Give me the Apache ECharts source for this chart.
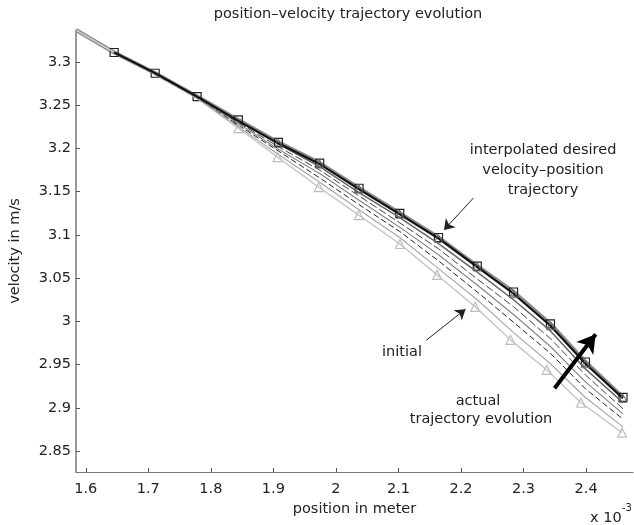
<!DOCTYPE html>
<html><head><meta charset="utf-8">
<script src="https://cdn.jsdelivr.net/npm/echarts@6/dist/echarts.min.js"></script>
<style>html,body{margin:0;padding:0;background:#fff}#c{width:634px;height:525px}</style>
</head><body><div id="c"></div>
<script>
// tick labels
const xTicks = [1.6, 1.7, 1.8, 1.9, 2, 2.1, 2.2, 2.3, 2.4];
const yTicks = [2.85, 2.9, 2.95, 3, 3.05, 3.1, 3.15, 3.2, 3.25, 3.3];

// positions (x 10^-3 m) of the samples on the desired / iterated trajectories
const positions = [1.5844, 1.6454, 1.711, 1.778, 1.844, 1.908, 1.974, 2.037, 2.102, 2.164, 2.226, 2.284, 2.343, 2.399, 2.459];
// interpolated desired velocity-position trajectory
const desired   = [3.337, 3.311, 3.287, 3.260, 3.233, 3.207, 3.183, 3.154, 3.125, 3.097, 3.064, 3.034, 2.997, 2.953, 2.912];
// iterations of the actual trajectory (from first after initial to last)
const iter1 = [3.337, 3.311, 3.286, 3.258, 3.225, 3.193, 3.161, 3.129, 3.097, 3.061, 3.025, 2.987, 2.951, 2.912, 2.878];
const iter2 = [3.337, 3.311, 3.286, 3.259, 3.227, 3.197, 3.166, 3.135, 3.104, 3.070, 3.034, 2.999, 2.963, 2.922, 2.887];
const iter3 = [3.337, 3.311, 3.287, 3.259, 3.229, 3.199, 3.171, 3.140, 3.109, 3.077, 3.042, 3.008, 2.971, 2.930, 2.893];
const iter4 = [3.337, 3.311, 3.287, 3.259, 3.230, 3.202, 3.175, 3.145, 3.114, 3.084, 3.049, 3.017, 2.980, 2.938, 2.899];
const iter5 = [3.337, 3.311, 3.287, 3.260, 3.232, 3.205, 3.179, 3.149, 3.120, 3.090, 3.057, 3.025, 2.989, 2.945, 2.906];
const finalActual = [3.337, 3.311, 3.287, 3.260, 3.232, 3.206, 3.182, 3.153, 3.124, 3.096, 3.063, 3.032, 2.995, 2.951, 2.911];
// initial actual trajectory (own sample positions)
const initialPositions = [1.5844, 1.6454, 1.711, 1.778, 1.844, 1.9067, 1.9725, 2.0366, 2.1023, 2.1618, 2.2228, 2.2792, 2.3371, 2.3919, 2.4576];
const initialVel = [3.337, 3.311, 3.286, 3.258, 3.2234, 3.190, 3.1553, 3.123, 3.0895, 3.0537, 3.0168, 2.9787, 2.944, 2.9059, 2.8713];

const FONT = '"DejaVu Sans", sans-serif';
const FS = 14.5;
const pair = (xs, ys, from) => ys.map((v, i) => [xs[i], v]).slice(from || 0);

const chart = echarts.init(document.getElementById('c'));
const lineSeries = (name, xs, ys, color, width, type, from) => ({
  name, type: 'line', data: pair(xs, ys, from), showSymbol: false, symbol: 'none',
  lineStyle: { color, width, type: type || 'solid' }, silent: true, z: 3
});
const txt = (x, y, text, size, align) => ({
  type: 'text', z: 10,
  style: { x, y, text, textAlign: align || 'center', textVerticalAlign: 'middle', font: (size || FS) + 'px ' + FONT, fill: '#222' }
});

chart.setOption({
  animation: false,
  backgroundColor: '#fff',
  grid: { left: 64, right: 1, top: 30, bottom: 53 },
  xAxis: {
    type: 'value', min: 1.5844, max: 2.475,
    name: 'position in meter', nameLocation: 'middle', nameGap: 29,
    nameTextStyle: { fontFamily: FONT, fontSize: FS, color: '#222' },
    axisLine: { show: true, lineStyle: { color: '#777', width: 1 } },
    axisTick: { show: true, inside: true, length: 4, customValues: xTicks, lineStyle: { color: '#555' } },
    axisLabel: { customValues: xTicks, margin: 10, fontFamily: FONT, fontSize: FS, color: '#222' },
    splitLine: { show: false }
  },
  yAxis: {
    type: 'value', min: 2.8258, max: 3.337,
    name: 'velocity in m/s', nameLocation: 'middle', nameGap: 53, nameRotate: 90,
    nameTextStyle: { fontFamily: FONT, fontSize: FS, color: '#222' },
    axisLine: { show: true, lineStyle: { color: '#777', width: 1.5 } },
    axisTick: { show: true, inside: true, length: 4, customValues: yTicks, lineStyle: { color: '#555' } },
    axisLabel: { customValues: yTicks, margin: 5, fontFamily: FONT, fontSize: FS, color: '#222' },
    splitLine: { show: false }
  },
  series: [
    {
      name: 'desired', type: 'line', silent: true, z: 2,
      data: positions.map((p, i) => ({ value: [p, desired[i]], symbol: i === 0 ? 'none' : 'rect' })),
      symbol: 'rect', symbolSize: 8, showSymbol: true,
      lineStyle: { color: '#8a8a8a', width: 4 },
      itemStyle: { color: 'rgba(255,255,255,0)', borderColor: '#222', borderWidth: 1.2 },
      markLine: {
        silent: true, symbol: ['none', 'arrow'], symbolSize: 10, label: { show: false },
        lineStyle: { color: '#222', width: 1, type: 'solid' },
        data: [[{ coord: [2.2197, 3.1426] }, { coord: [2.1728, 3.1057] }]]
      }
    },
    {
      name: 'initial', type: 'line', silent: true, z: 3,
      data: initialPositions.map((p, i) => ({ value: [p, initialVel[i]], symbol: i < 4 ? 'none' : 'triangle' })),
      symbol: 'triangle', symbolSize: 9, showSymbol: true,
      lineStyle: { color: '#c8c8c8', width: 1.5 },
      itemStyle: { color: 'rgba(255,255,255,0)', borderColor: '#bdbdbd', borderWidth: 1.2 },
      markLine: {
        silent: true, symbol: ['none', 'arrow'], symbolSize: 10, label: { show: false },
        lineStyle: { color: '#222', width: 1, type: 'solid' },
        data: [[{ coord: [2.1446, 2.9783] }, { coord: [2.2072, 3.0141] }]]
      }
    },
    lineSeries('iter1', positions, iter1, '#a8a8a8', 1.2, 'solid', 1),
    lineSeries('iter2', positions, iter2, '#222', 1, [6, 3], 1),
    lineSeries('iter3', positions, iter3, '#888', 1.2, 'solid', 1),
    lineSeries('iter4', positions, iter4, '#444', 1, [8, 3], 1),
    lineSeries('iter5', positions, iter5, '#666', 1.5, 'solid', 1),
    {
      name: 'final', type: 'line', silent: true, z: 4,
      data: positions.map((p, i) => ({ value: [p, finalActual[i]], symbol: i < 5 ? 'none' : 'triangle' })).slice(1),
      symbol: 'triangle', symbolSize: 8, showSymbol: true,
      lineStyle: { color: '#111', width: 2 },
      itemStyle: { color: 'rgba(255,255,255,0)', borderColor: '#666', borderWidth: 1 },
      markLine: {
        silent: true, symbol: ['none', 'arrow'], symbolSize: [16, 18], label: { show: false },
        lineStyle: { color: '#000', width: 4, type: 'solid' },
        data: [[{ coord: [2.3496, 2.9227] }, { coord: [2.4153, 2.9851] }]]
      }
    }
  ],
  graphic: [
    txt(348, 14, 'position–velocity trajectory evolution'),
    txt(543, 150, 'interpolated desired'),
    txt(543, 170, 'velocity–position'),
    txt(543, 190, 'trajectory'),
    txt(402, 352, 'initial'),
    txt(478, 401, 'actual'),
    txt(481, 419, 'trajectory evolution'),
    txt(590, 518, 'x 10', FS, 'left'),
    txt(622, 508, '-3', 10, 'left')
  ]
});
</script>
</body></html>
